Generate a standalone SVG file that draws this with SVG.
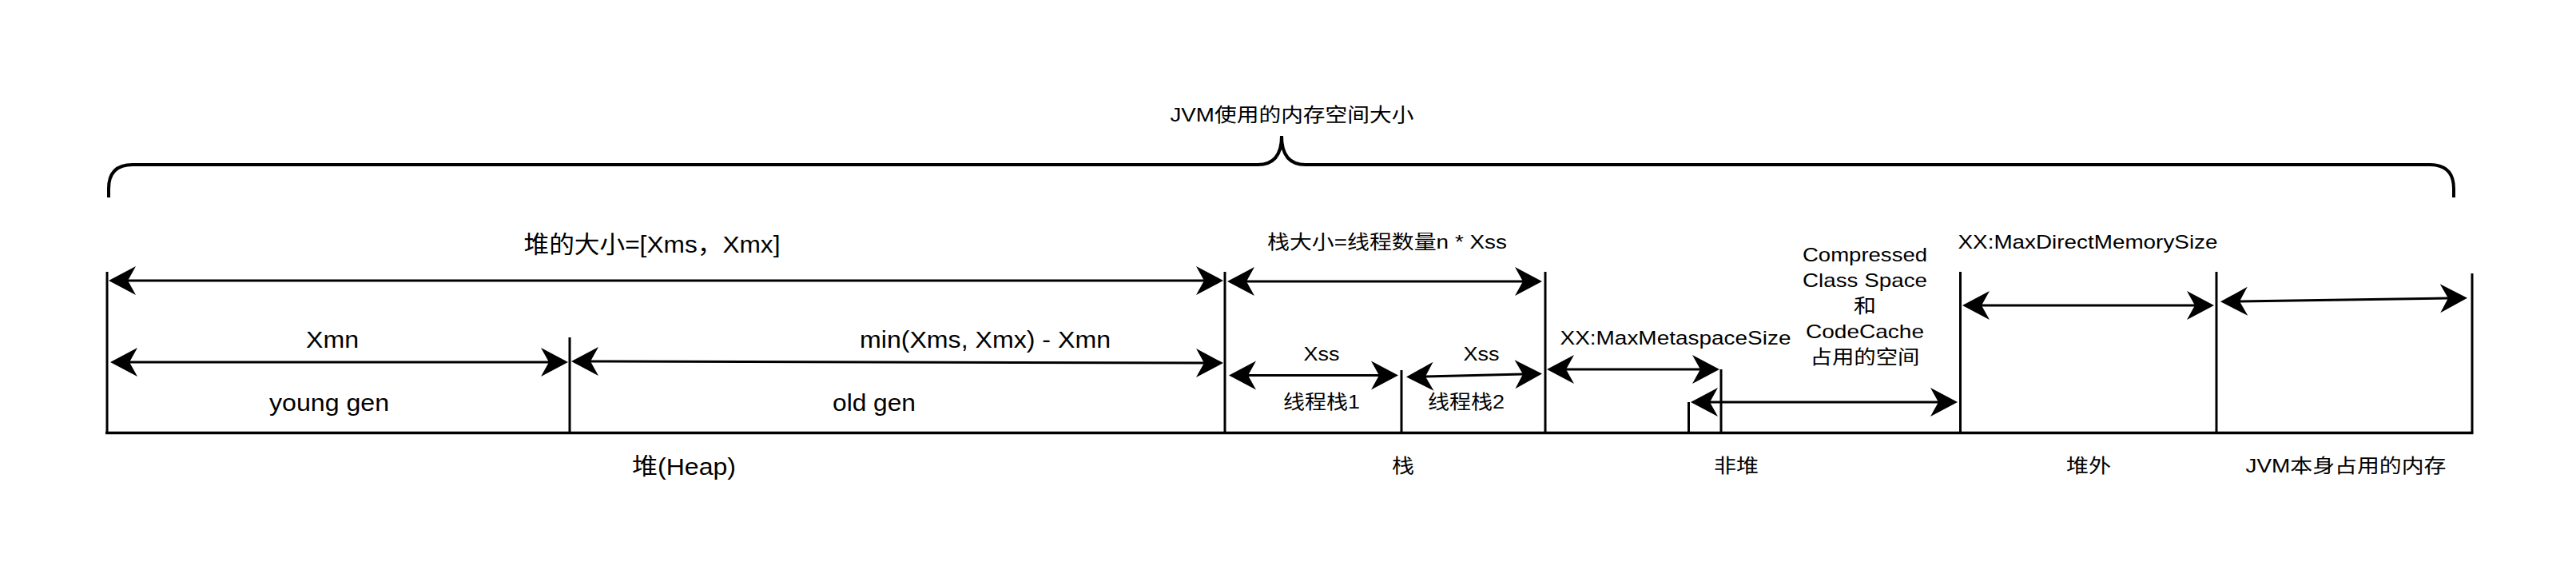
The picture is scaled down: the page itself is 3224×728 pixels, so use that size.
<svg xmlns="http://www.w3.org/2000/svg" width="3224" height="728" viewBox="0 0 3224 728">
<style>
.t{font-family:"Liberation Sans","Noto Sans CJK SC",sans-serif;font-size:24px;text-anchor:middle;fill:#000}
.b{font-size:29px}
.ln{stroke:#000;stroke-width:3;fill:none}
.br{stroke:#000;stroke-width:4;fill:none}
.arr{stroke:#000;stroke-width:3;fill:none;marker-start:url(#ah);marker-end:url(#ah)}
</style>
<defs>
<marker id="ah" markerUnits="userSpaceOnUse" markerWidth="40" markerHeight="40" viewBox="-12 -20 40 40" refX="0" refY="0" orient="auto-start-reverse" overflow="visible">
<path d="M24,0 L-10,-18 L0,0 L-10,18 Z" fill="#000"/>
</marker>
</defs>
<rect width="3224" height="728" fill="#fff"/>

<g id="total">
<path class="br" d="M136,247 L136,236 Q136,206 166,206 L1574,206 Q1604,206 1604,170 Q1604,206 1634,206 L3041,206 Q3071,206 3071,236 L3071,247"/>
<text class="t" x="1617" y="152" textLength="305" lengthAdjust="spacingAndGlyphs">JVM使用的内存空间大小</text>
</g>

<g id="heap">
<path class="ln" d="M134,340 V541 M713,422 V541 M1533,340 V541"/>
<text class="t" x="816" y="316" style="font-size:30px" textLength="321" lengthAdjust="spacingAndGlyphs">堆的大小=[Xms，Xmx]</text>
<text class="t b" x="416" y="435" textLength="66" lengthAdjust="spacingAndGlyphs">Xmn</text>
<text class="t b" x="1233" y="435" textLength="314" lengthAdjust="spacingAndGlyphs">min(Xms, Xmx) - Xmn</text>
<text class="t b" x="412" y="514" textLength="150" lengthAdjust="spacingAndGlyphs">young gen</text>
<text class="t b" x="1094" y="514" textLength="104" lengthAdjust="spacingAndGlyphs">old gen</text>
<text class="t b" x="856" y="594" textLength="130" lengthAdjust="spacingAndGlyphs">堆(Heap)</text>
</g>

<g id="stack">
<path class="ln" d="M1754,463 V541 M1934,340 V541"/>
<text class="t" x="1736" y="311" textLength="300" lengthAdjust="spacingAndGlyphs">栈大小=线程数量n * Xss</text>
<text class="t" x="1654" y="451" textLength="45" lengthAdjust="spacingAndGlyphs">Xss</text>
<text class="t" x="1854" y="451" textLength="45" lengthAdjust="spacingAndGlyphs">Xss</text>
<text class="t" x="1654" y="511" textLength="96" lengthAdjust="spacingAndGlyphs">线程栈1</text>
<text class="t" x="1835" y="511" textLength="96" lengthAdjust="spacingAndGlyphs">线程栈2</text>
<text class="t" x="1756" y="591" textLength="28" lengthAdjust="spacingAndGlyphs">栈</text>
</g>

<g id="nonheap">
<path class="ln" d="M2113.5,503 V541 M2154,462 V541 M2453.5,340 V541"/>
<text class="t" x="2097" y="431" textLength="289" lengthAdjust="spacingAndGlyphs">XX:MaxMetaspaceSize</text>
<text class="t" x="2334" y="327" textLength="156" lengthAdjust="spacingAndGlyphs">Compressed</text>
<text class="t" x="2334" y="359" textLength="156" lengthAdjust="spacingAndGlyphs">Class Space</text>
<text class="t" x="2334" y="391" textLength="28" lengthAdjust="spacingAndGlyphs">和</text>
<text class="t" x="2334" y="423" textLength="148" lengthAdjust="spacingAndGlyphs">CodeCache</text>
<text class="t" x="2334" y="455" textLength="137" lengthAdjust="spacingAndGlyphs">占用的空间</text>
<text class="t" x="2173" y="591" textLength="56" lengthAdjust="spacingAndGlyphs">非堆</text>
</g>

<g id="offheap">
<path class="ln" d="M2774,340 V541"/>
<text class="t" x="2613" y="311" textLength="325" lengthAdjust="spacingAndGlyphs">XX:MaxDirectMemorySize</text>
<text class="t" x="2614" y="591" textLength="56" lengthAdjust="spacingAndGlyphs">堆外</text>
</g>

<g id="jvmself">
<path class="ln" d="M3094,342 V541"/>
<text class="t" x="2936" y="591" textLength="251" lengthAdjust="spacingAndGlyphs">JVM本身占用的内存</text>
</g>

<g id="baseline">
<path class="ln" style="stroke-width:3.5" d="M132,541.5 H3095.5"/>
</g>

<g id="connectors">
<path class="arr" d="M160,351 L1507,351"/>
<path class="arr" d="M162,453 L687,453"/>
<path class="arr" d="M739,452 L1507,454"/>
<path class="arr" d="M1560,352 L1906,352"/>
<path class="arr" d="M1562,469.5 L1726,469.5"/>
<path class="arr" d="M1784,471 L1906,468"/>
<path class="arr" d="M1960,462 L2128,462"/>
<path class="arr" d="M2140,503 L2426,503"/>
<path class="arr" d="M2480,382 L2747,382"/>
<path class="arr" d="M2803,377 L3064,373"/>
</g>
</svg>
